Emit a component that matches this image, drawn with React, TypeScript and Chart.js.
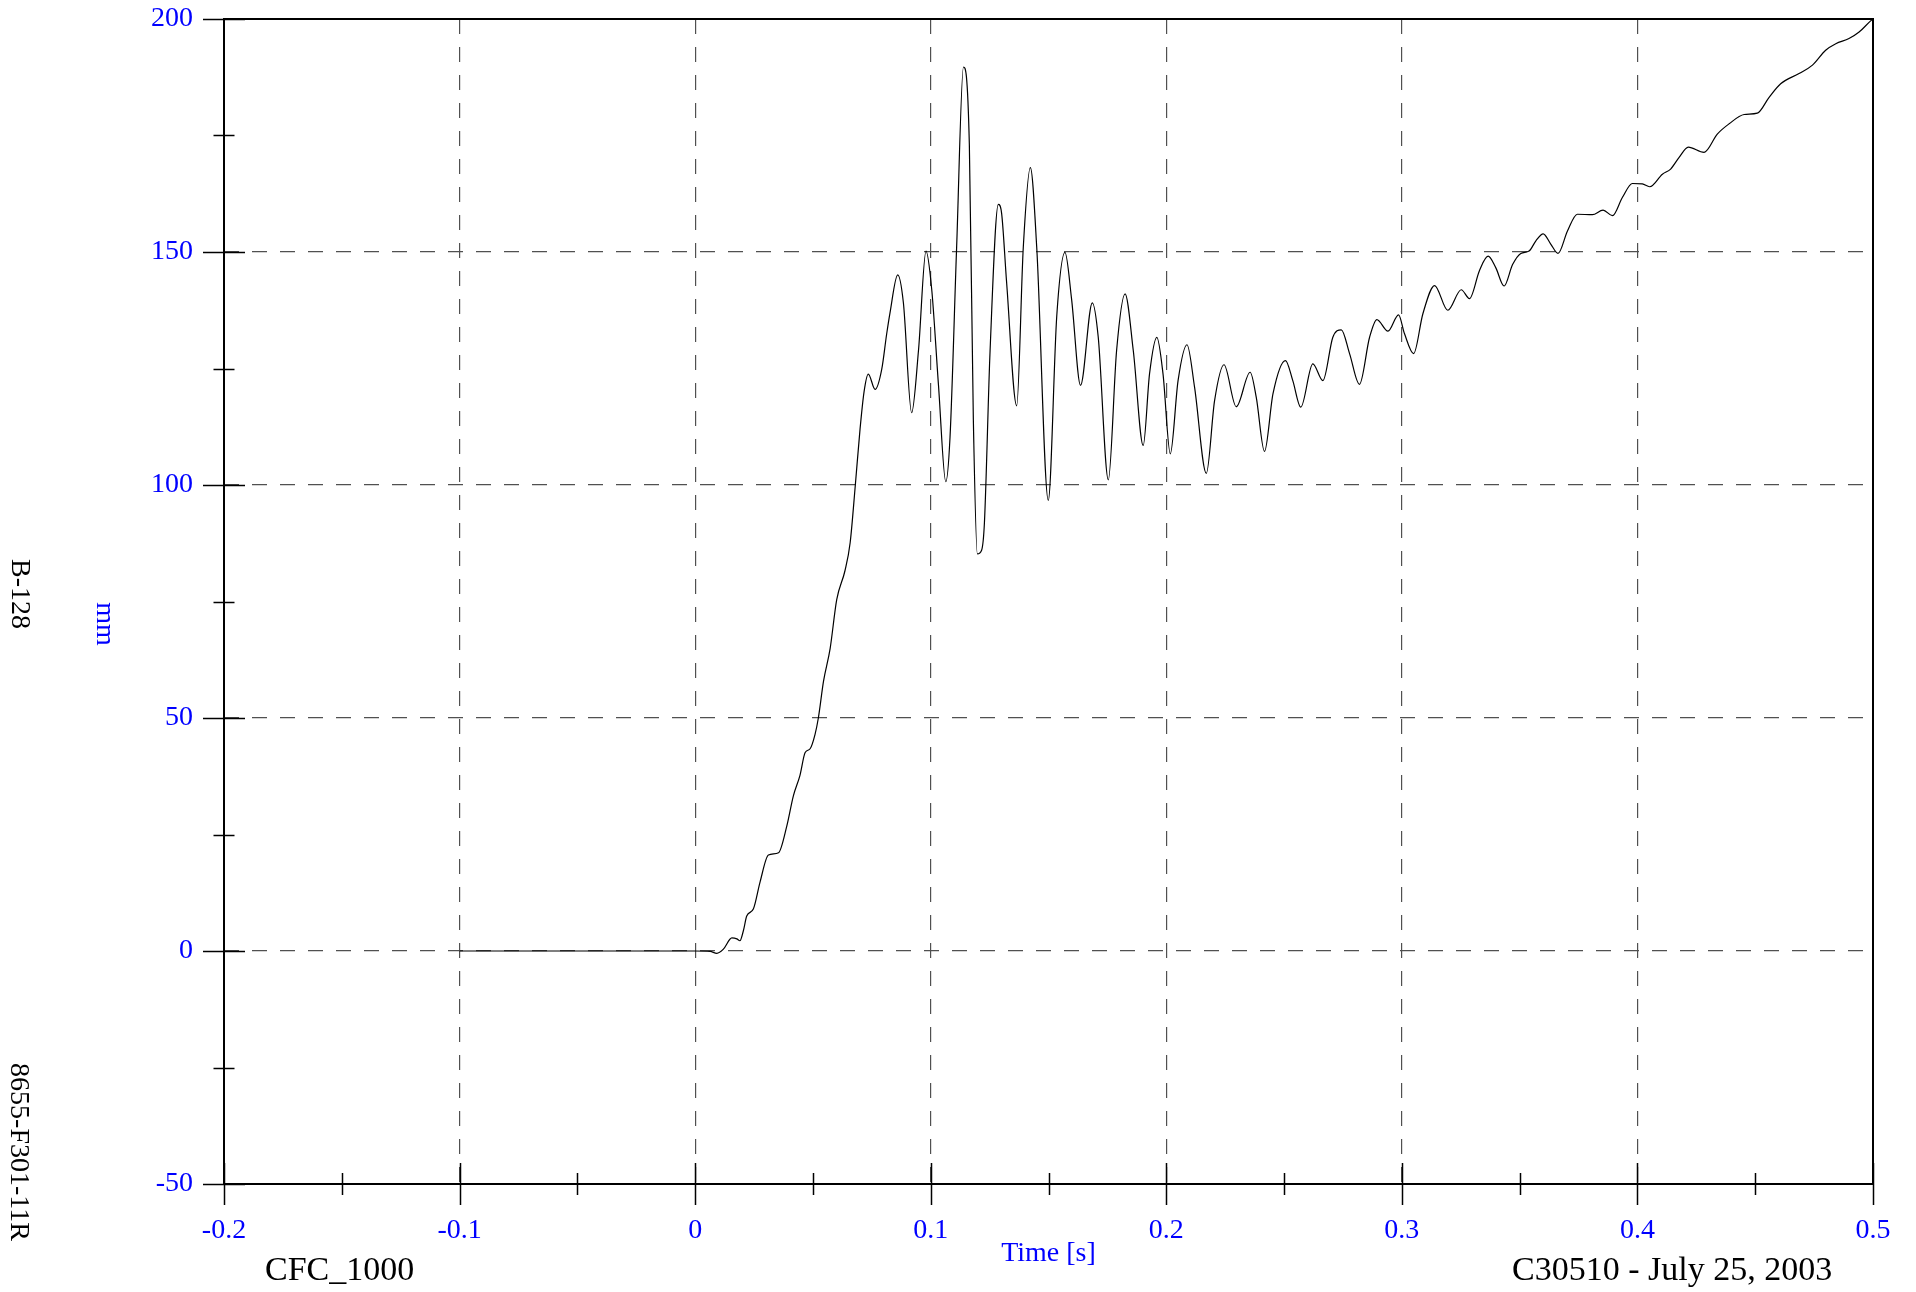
import React, { useEffect, useRef } from 'react';
import { Chart, registerables } from 'chart.js';

Chart.register(...registerables);

// ---- data ----
const timeS = [
  -0.1, 0.0, 0.0064, 0.0092, 0.012, 0.0156, 0.0177, 0.019, 0.0205, 0.0219,
  0.0247, 0.0276, 0.0311, 0.0354, 0.0389, 0.0417, 0.0445, 0.0467, 0.0488, 0.0509,
  0.0523, 0.0545, 0.0573, 0.0601, 0.0636, 0.0658, 0.068, 0.07, 0.0717, 0.0735,
  0.0764, 0.0792, 0.0813, 0.0827, 0.086, 0.0884, 0.0919, 0.0948, 0.098, 0.1004,
  0.1033, 0.1064, 0.1082, 0.111, 0.1139, 0.1164, 0.1181, 0.1198, 0.1216, 0.1228,
  0.1252, 0.1287, 0.1301, 0.1322, 0.1365, 0.1393, 0.1423, 0.145, 0.1499, 0.1535,
  0.157, 0.1598, 0.1636, 0.1686, 0.1711, 0.1754, 0.1789, 0.1825, 0.186, 0.1902,
  0.1929, 0.196, 0.1986, 0.2017, 0.205, 0.2088, 0.212, 0.217, 0.2205, 0.2245,
  0.2297, 0.2356, 0.2382, 0.2417, 0.2453, 0.2506, 0.2537, 0.2571, 0.2622, 0.2665,
  0.2707, 0.2743, 0.2778, 0.282, 0.2863, 0.2894, 0.2941, 0.2986, 0.3011, 0.305,
  0.3089, 0.3139, 0.3195, 0.3252, 0.3287, 0.333, 0.3366, 0.3399, 0.3434, 0.347,
  0.3505, 0.354, 0.3569, 0.36, 0.3632, 0.3663, 0.3703, 0.3745, 0.3809, 0.3854,
  0.3894, 0.3936, 0.3979, 0.4021, 0.4052, 0.4106, 0.4141, 0.4177, 0.4216, 0.4283,
  0.4339, 0.4389, 0.4453, 0.4509, 0.4559, 0.4608, 0.4686, 0.4743, 0.4799, 0.4842,
  0.4898, 0.4941, 0.499, 0.5,
];

const displacementMm = [
  0, 0, -0.1, -0.5, 0.4, 2.8, 2.6, 2.2, 4.4, 7.5,
  9.0, 14.9, 20.6, 21.1, 26.8, 33.3, 37.7, 42.6, 43.4, 46.5,
  50, 57.9, 64.9, 75.4, 81.6, 87.6, 100, 112, 120, 123.8,
  120.5, 124.8, 132.4, 136.9, 145.1, 139.1, 115.5, 128.8, 150.2, 142.1,
  121.4, 100.7, 110.3, 151, 189.7, 173.1, 114.0, 85.2, 86.0, 91.9,
  128.8, 160.2, 158.3, 143.6, 117.0, 151, 168.1, 151, 96.7, 136.2,
  149.9, 139.9, 121.4, 139.1, 131.8, 101.1, 128.8, 141.0, 128.8, 108.5,
  123.9, 131.7, 123.9, 106.7, 122.4, 130.1, 121, 102.5, 118.1, 125.8,
  116.8, 124.2, 118.8, 107.2, 119.6, 126.7, 122.4, 116.7, 126, 122.4,
  131.7, 133.3, 128.2, 121.6, 131.7, 135.5, 133, 136.5, 132.5, 128.2,
  136.7, 142.8, 137.5, 141.9, 140, 146.1, 149.1, 146.6, 142.7, 147.3,
  149.7, 150.2, 152.4, 153.9, 151.7, 149.7, 154.5, 158.1, 158, 159,
  157.8, 161.7, 164.7, 164.6, 164, 166.7, 167.8, 170.3, 172.5, 171.4,
  175.3, 177.5, 179.5, 179.8, 183.2, 186.1, 188.3, 190.1, 193.3, 194.7,
  195.8, 197.2, 199.6, 200,
];

const xTickValues = [-0.2, -0.1, 0, 0.1, 0.2, 0.3, 0.4, 0.5];
const yTickValues = [-50, 0, 50, 100, 150, 200];

const xAxisTitle = 'Time [s]';
const yAxisUnit = 'mm';
const sideLabelTop = 'B-128';
const sideLabelBottom = '8655-F301-11R';
const footerLeft = 'CFC_1000';
const footerRight = 'C30510 - July 25, 2003';

const FONT = "'Liberation Serif', 'Times New Roman', serif";
const BLUE = '#0000ff';

const framePlugin = {
  id: 'frameAndTicks',
  afterDraw(chart: any) {
    const { ctx, chartArea: a, scales } = chart;
    const xs = scales.x;
    const ys = scales.y;
    ctx.save();
    // frame
    ctx.strokeStyle = '#000';
    ctx.lineWidth = 2;
    ctx.strokeRect(a.left, a.top, a.right - a.left, a.bottom - a.top);

    // ticks (major crossing + minor crossing)
    ctx.lineWidth = 1.5;
    ctx.beginPath();
    for (let i = 0; i < xTickValues.length; i++) {
      const px = Math.round(xs.getPixelForValue(xTickValues[i])) + 0.5;
      ctx.moveTo(px, a.bottom - 21);
      ctx.lineTo(px, a.bottom + 21);
      if (i < xTickValues.length - 1) {
        const mid = (xTickValues[i] + xTickValues[i + 1]) / 2;
        const pm = Math.round(xs.getPixelForValue(mid)) + 0.5;
        ctx.moveTo(pm, a.bottom - 11);
        ctx.lineTo(pm, a.bottom + 11);
      }
    }
    for (let i = 0; i < yTickValues.length; i++) {
      const py = Math.round(ys.getPixelForValue(yTickValues[i])) + 0.5;
      ctx.moveTo(a.left - 21, py);
      ctx.lineTo(a.left + 21, py);
      if (i < yTickValues.length - 1) {
        const mid = (yTickValues[i] + yTickValues[i + 1]) / 2;
        const pm = Math.round(ys.getPixelForValue(mid)) + 0.5;
        ctx.moveTo(a.left - 10.5, pm);
        ctx.lineTo(a.left + 10.5, pm);
      }
    }
    ctx.stroke();

    // side + footer texts
    ctx.textAlign = 'center';
    ctx.textBaseline = 'alphabetic';
    ctx.font = `28px ${FONT}`;
    const rot = (text: string, bx: number, cy: number, color: string) => {
      ctx.save();
      ctx.translate(bx, cy);
      ctx.rotate(Math.PI / 2);
      ctx.fillStyle = color;
      ctx.fillText(text, 0, 0);
      ctx.restore();
    };
    rot(sideLabelTop, 12, 594, '#000');
    rot(sideLabelBottom, 11, 1152, '#000');
    rot(yAxisUnit, 97, 624, BLUE);

    ctx.font = `34px ${FONT}`;
    ctx.fillStyle = '#000';
    ctx.textAlign = 'left';
    ctx.fillText(footerLeft, 265, 1280);
    ctx.fillText(footerRight, 1512, 1280);
    ctx.restore();
  },
};

export default function App() {
  const canvasRef = useRef<HTMLCanvasElement | null>(null);

  useEffect(() => {
    document.body.style.margin = '0';
    const canvas = canvasRef.current;
    if (!canvas) return;
    const points = timeS.map((t, i) => ({ x: t, y: displacementMm[i] }));
    const gridColor = (c: any) => {
      const v = c.tick ? c.tick.value : null;
      const s = c.scale;
      if (v === null || Math.abs(v - s.min) < 1e-9 || Math.abs(v - s.max) < 1e-9) return 'rgba(0,0,0,0)';
      return '#505050';
    };
    const chart = new Chart(canvas, {
      type: 'line',
      data: {
        datasets: [
          {
            data: points,
            borderColor: '#000000',
            borderWidth: 1.2,
            pointRadius: 0,
            fill: false,
            cubicInterpolationMode: 'monotone',
          },
        ],
      },
      options: {
        animation: false,
        responsive: false,
        devicePixelRatio: 1,
        layout: { padding: { left: 0, top: 19, right: 43, bottom: 0 } },
        plugins: { legend: { display: false }, tooltip: { enabled: false } },
        scales: {
          x: {
            type: 'linear',
            min: -0.2,
            max: 0.5,
            afterBuildTicks: (scale: any) => {
              scale.ticks = xTickValues.map((v) => ({ value: v }));
            },
            afterFit: (scale: any) => {
              scale.height = 108;
              scale.paddingLeft = 0;
              scale.paddingRight = 0;
            },
            grid: { color: gridColor, lineWidth: 1.2, drawTicks: false },
            border: { display: false, dash: [15, 13] },
            ticks: {
              color: BLUE,
              font: { family: FONT, size: 28 },
              padding: 30,
              maxRotation: 0,
              autoSkip: false,
              callback: (v: any) => String(Math.round(Number(v) * 10) / 10),
            },
            title: {
              display: true,
              text: xAxisTitle,
              color: BLUE,
              font: { family: FONT, size: 28 },
              padding: { top: 0, bottom: 22 },
            },
          },
          y: {
            type: 'linear',
            min: -50,
            max: 200,
            afterBuildTicks: (scale: any) => {
              scale.ticks = yTickValues.map((v) => ({ value: v }));
            },
            afterFit: (scale: any) => {
              scale.width = 224;
              scale.paddingTop = 0;
              scale.paddingBottom = 0;
            },
            grid: { color: gridColor, lineWidth: 1.2, drawTicks: false },
            border: { display: false, dash: [15, 13] },
            ticks: {
              color: BLUE,
              font: { family: FONT, size: 28 },
              padding: 31,
              autoSkip: false,
              callback: (v: any) => String(v),
            },
          },
        },
      },
      plugins: [framePlugin],
    } as any);
    return () => chart.destroy();
  }, []);

  return (
    <div style={{ width: 1916, height: 1292 }}>
      <canvas ref={canvasRef} width={1916} height={1292} style={{ display: 'block', width: 1916, height: 1292 }} />
    </div>
  );
}
